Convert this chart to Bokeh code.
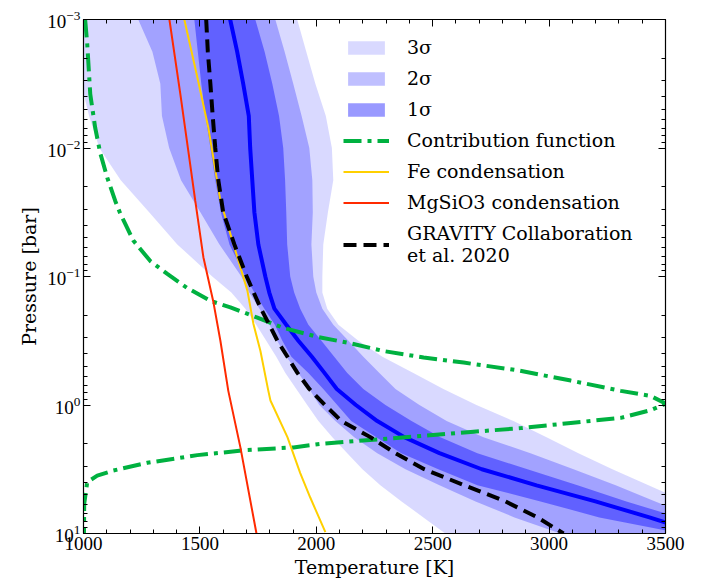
import numpy as np
from bokeh.plotting import figure
from bokeh.models import (Range1d, LinearAxis, LogAxis, Legend, LegendItem,
                          FixedTicker, CustomJSTickFormatter)
from bokeh.embed import file_html
from bokeh.resources import INLINE

# ---------------- data ----------------
# common pressure grid, log10(P / bar)
logp_grid = [-3, -2.75, -2.5, -2.25, -2, -1.75, -1.5, -1.25, -1, -0.875, -0.75, -0.625,
             -0.5, -0.375, -0.25, -0.125, 0, 0.125, 0.25, 0.375, 0.5, 0.625, 0.75,
             0.875, 1]

t_median = [1630, 1660, 1686, 1710, 1716, 1725, 1734, 1751, 1781, 1798, 1820, 1871,
            1923, 1981, 2035, 2088, 2170, 2262, 2378, 2529, 2711, 2946, 3199, 3431, 3655]
t_1s_lo = [1476, 1491, 1506, 1524, 1545, 1566, 1590, 1627, 1695, 1734, 1777, 1822,
           1854, 1893, 1966, 2030, 2090, 2150, 2258, 2365, 2524, 2692, 2963, 3216, 3566]
t_1s_hi = [1738, 1778, 1811, 1840, 1858, 1866, 1871, 1875, 1888, 1905, 1931, 1966,
           2022, 2077, 2133, 2202, 2297, 2409, 2533, 2692, 2907, 3122, 3332, 3556, 3780]
t_2s_lo = [1235, 1296, 1330, 1337, 1368, 1419, 1502, 1584, 1678, 1712, 1756, 1799,
           1832, 1871, 1923, 1970, 2013, 2082, 2163, 2262, 2383, 2529, 2684, 2851, 3049]
t_2s_hi = [1824, 1864, 1901, 1937, 1970, 1983, 1985, 1979, 1987, 2000, 2026, 2073,
           2138, 2202, 2271, 2340, 2443, 2560, 2718, 2920, 3105, 3286, 3456, 3629, 3850]
t_3s_lo = [943, 969, 990, 1024, 1068, 1160, 1282, 1403, 1553, 1635, 1695, 1742,
           1785, 1828, 1867, 1914, 1961, 2009, 2069, 2133, 2198, 2275, 2366, 2460, 2554]
t_3s_hi = [1918, 1957, 1996, 2041, 2067, 2073, 2050, 2030, 2026, 2026, 2047, 2095,
           2181, 2284, 2417, 2546, 2688, 2847, 2989, 3126, 3272, 3427, 3586, 3745, 3904]
t_gravity = [1527, 1534, 1545, 1555, 1566, 1579, 1600, 1648, 1701, 1731, 1762, 1798,
             1833, 1876, 1919, 1970, 2037, 2108, 2232, 2340, 2464, 2636, 2812, 2950, 3062]

# contribution function (drawn in temperature units)
t_cf = [1007, 1016, 1029, 1050, 1072, 1102, 1136, 1158, 1214, 1287, 1360, 1446, 1545,
        1631, 1747, 1859, 2005, 2147, 2289, 2461, 2633, 2865, 3093, 3308, 3437, 3502,
        3437, 3308, 3093, 2878, 2663, 2461, 2246, 2031, 1902, 1704, 1489, 1274, 1128,
        1059, 1016, 1003, 1002]
logp_cf = [-3, -2.81, -2.42, -2.16, -1.96, -1.77, -1.59, -1.49, -1.28, -1.12, -1.02,
           -0.91, -0.81, -0.76, -0.68, -0.60, -0.53, -0.48, -0.42, -0.37, -0.33, -0.27,
           -0.19, -0.11, -0.07, -0.01, 0.04, 0.10, 0.14, 0.18, 0.21, 0.24, 0.27, 0.30,
           0.33, 0.35, 0.39, 0.45, 0.51, 0.55, 0.60, 0.77, 1.0]

# Fe condensation curve
t_fe = [1433, 1489, 1536, 1588, 1631, 1661, 1704, 1730, 1760, 1794, 1803, 1876, 1931, 1974, 2039]
logp_fe = [-3, -2.55, -2.16, -1.59, -1.33, -1.15, -0.89, -0.63, -0.42, -0.11, -0.035, 0.25, 0.53, 0.72, 0.99]

# MgSiO3 condensation curve
t_mg = [1369, 1416, 1450, 1480, 1515, 1557, 1588, 1622, 1674, 1743]
logp_mg = [-3, -2.42, -1.98, -1.59, -1.15, -0.81, -0.50, -0.11, 0.33, 1.0]

x_ticks = [1000, 1500, 2000, 2500, 3000, 3500]
y_ticks = [1e-3, 1e-2, 1e-1, 1e0, 1e1]

# ---------------- figure ----------------
p_grid = [10 ** v for v in logp_grid]
p_cf = [10 ** v for v in logp_cf]
p_fe = [10 ** v for v in logp_fe]
p_mg = [10 ** v for v in logp_mg]

TXT = "DejaVu Serif"
NUM = "Liberation Serif"

p = figure(width=702, height=582,
           x_range=Range1d(1000, 3500), y_range=Range1d(10, 1e-3),
           y_axis_type="log", output_backend="svg", toolbar_location=None,
           min_border_left=83, min_border_top=19, min_border_bottom=49,
           min_border_right=37)
p.xgrid.visible = False
p.ygrid.visible = False
p.outline_line_color = "black"
p.outline_line_width = 1.2
p.background_fill_color = "white"
p.border_fill_color = "white"

x_minor = list(range(1000, 3501, 100))
y_minor = [k * 10.0 ** e for e in range(-3, 1) for k in range(2, 10)]
xt = FixedTicker(ticks=x_ticks, minor_ticks=x_minor)
yt = FixedTicker(ticks=y_ticks, minor_ticks=y_minor)

def style_axis(ax):
    ax.axis_line_color = "black"
    ax.major_tick_in = 7
    ax.major_tick_out = 0
    ax.minor_tick_in = 4
    ax.minor_tick_out = 0
    ax.major_tick_line_color = "black"
    ax.minor_tick_line_color = "black"
    ax.major_label_text_font = NUM
    ax.major_label_text_font_size = "19px"
    ax.major_label_text_color = "black"
    ax.axis_label_text_font = TXT
    ax.axis_label_text_font_size = "19px"
    ax.axis_label_text_font_style = "normal"
    ax.axis_label_text_color = "black"

p.xaxis.ticker = xt
p.yaxis.ticker = yt
style_axis(p.xaxis[0])
style_axis(p.yaxis[0])
p.xaxis.major_label_standoff = 3
p.yaxis.major_label_standoff = 3
p.yaxis.axis_label = "Pressure [bar]"
p.yaxis.axis_label_standoff = 4
p.xaxis.axis_label = "Temperature [K]"
p.xaxis.axis_label_standoff = 3

blank = CustomJSTickFormatter(code="return '';")
top_ax = LinearAxis(ticker=xt, formatter=blank, major_label_standoff=0)
right_ax = LogAxis(ticker=yt, formatter=blank, major_label_standoff=0)
style_axis(top_ax)
style_axis(right_ax)
p.add_layout(top_ax, "above")
p.add_layout(right_ax, "right")

# bands
r3 = p.harea(y=p_grid, x1=t_3s_lo, x2=t_3s_hi, fill_color="blue", fill_alpha=0.15)
r2 = p.harea(y=p_grid, x1=t_2s_lo, x2=t_2s_hi, fill_color="blue", fill_alpha=0.25)
r1 = p.harea(y=p_grid, x1=t_1s_lo, x2=t_1s_hi, fill_color="blue", fill_alpha=0.40)
rmed = p.line(t_median, p_grid, line_color="blue", line_width=4)
rcf = p.line(t_cf, p_cf, line_color="#00b140", line_width=4, line_dash="18 6 4 6")
rfe = p.line(t_fe, p_fe, line_color="#ffd000", line_width=2)
rmg = p.line(t_mg, p_mg, line_color="#ff2a00", line_width=2)
rgr = p.line(t_gravity, p_grid, line_color="black", line_width=4, line_dash="13 7")

legend = Legend(items=[
    LegendItem(label="3σ", renderers=[r3]),
    LegendItem(label="2σ", renderers=[r2]),
    LegendItem(label="1σ", renderers=[r1]),
    LegendItem(label="Contribution function", renderers=[rcf]),
    LegendItem(label="Fe condensation", renderers=[rfe]),
    LegendItem(label="MgSiO3 condensation", renderers=[rmg]),
    LegendItem(label="GRAVITY Collaboration\net al. 2020", renderers=[rgr]),
], location=(260, 267))
legend.background_fill_alpha = 0
legend.border_line_color = None
legend.padding = 0
legend.margin = 0
legend.glyph_width = 46
legend.glyph_height = 17
legend.label_standoff = 18
legend.spacing = 9
legend.label_text_font = TXT
legend.label_text_font_size = "19px"
legend.label_text_color = "black"
p.add_layout(legend)

open("out.html", "w").write(file_html(p, INLINE))
